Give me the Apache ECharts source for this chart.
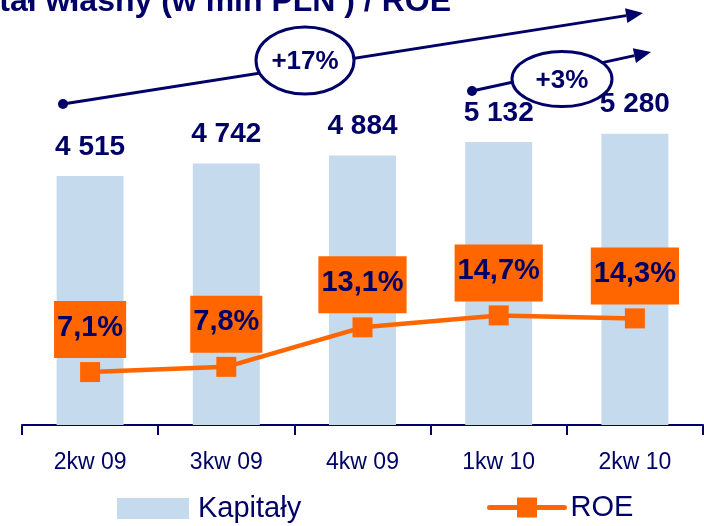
<!DOCTYPE html>
<html>
<head>
<meta charset="utf-8">
<title>Kapitał własny / ROE</title>
<script src="https://cdn.jsdelivr.net/npm/echarts@6/dist/echarts.min.js"></script>
<style>
  html, body { margin: 0; padding: 0; background: #ffffff; }
  #chart { width: 704px; height: 526px; }
</style>
</head>
<body>
<div id="chart"></div>
<script>
// Equity (PLN m) and ROE by quarter
const categories = ['2kw 09', '3kw 09', '4kw 09', '1kw 10', '2kw 10'];
const kapitaly = [4515, 4742, 4884, 5132, 5280];
const roe = [7.1, 7.8, 13.1, 14.7, 14.3];
const growthLong = '+17%';
const growthShort = '+3%';
const titleText = 'Kapitał własny (w mln PLN ) / ROE';

const NAVY = '#000066';
const ORANGE = '#FF6600';
const BAR = '#C6DAEE';
const FONT = '"Liberation Sans", Arial, sans-serif';

const fmtThousands = v => String(v).replace(/\B(?=(\d{3})+(?!\d))/g, ' ');
const fmtPct = v => v.toFixed(1).replace('.', ',') + '%';

// arrow head polygon from tip along a direction
function arrowHead(tip, from, len, half) {
  const dx = tip[0] - from[0], dy = tip[1] - from[1];
  const L = Math.hypot(dx, dy);
  const ux = dx / L, uy = dy / L;
  const bx = tip[0] - ux * len, by = tip[1] - uy * len;
  return {
    base: [bx, by],
    pts: [tip, [bx - uy * half, by + ux * half], [bx + uy * half, by - ux * half]]
  };
}

function growthArrow(start, tip, ell, label) {
  const head = arrowHead(tip, start, 17, 7.5);
  return [
    { type: 'line', shape: { x1: start[0], y1: start[1], x2: head.base[0], y2: head.base[1] },
      style: { stroke: NAVY, lineWidth: 3 }, z: 10 },
    { type: 'polygon', shape: { points: head.pts }, style: { fill: NAVY }, z: 10 },
    { type: 'circle', shape: { cx: start[0], cy: start[1], r: 5 }, style: { fill: NAVY }, z: 10 },
    { type: 'ellipse', shape: { cx: ell[0], cy: ell[1], rx: ell[2], ry: ell[3] },
      style: { fill: '#ffffff', stroke: NAVY, lineWidth: 3 }, z: 11 },
    { type: 'text', x: ell[0], y: ell[1] + 1.5, z: 12,
      style: { text: label, fill: NAVY, font: 'bold 26px ' + FONT, align: 'center', verticalAlign: 'middle' } }
  ];
}

const chart = echarts.init(document.getElementById('chart'), null, { renderer: 'canvas' });

chart.setOption({
  animation: false,
  backgroundColor: '#ffffff',
  grid: { left: 22, right: 1, top: 94, bottom: 101, containLabel: false },
  legend: [
    {
      data: ['Kapitały'], left: 117, top: 494, padding: 0,
      itemWidth: 72, itemHeight: 21, icon: 'rect',
      textStyle: { color: NAVY, fontSize: 29, fontFamily: FONT, padding: [0, 0, 0, 4] }
    },
    {
      data: ['ROE'], left: 487, top: 493, padding: 0,
      itemWidth: 75, itemHeight: 25,
      lineStyle: { width: 5, cap: 'round' },
      textStyle: { color: NAVY, fontSize: 29, fontFamily: FONT, padding: [0, 0, 0, 1] }
    }
  ],
  xAxis: {
    type: 'category',
    data: categories,
    boundaryGap: true,
    axisLine: { show: true, lineStyle: { color: NAVY, width: 2 } },
    axisTick: { show: true, alignWithLabel: false, length: 10, lineStyle: { color: NAVY, width: 2 } },
    axisLabel: { color: NAVY, fontSize: 23, fontFamily: FONT, margin: 26 },
    splitLine: { show: false }
  },
  yAxis: [
    { type: 'value', min: 0, max: 6000, show: false, splitLine: { show: false } },
    { type: 'value', min: 0, max: 44.4, show: false, splitLine: { show: false } }
  ],
  series: [
    {
      name: 'Kapitały',
      type: 'bar',
      data: kapitaly,
      barWidth: 67,
      itemStyle: { color: BAR },
      z: 2,
      label: {
        show: true, position: 'top', distance: 15,
        color: NAVY, fontSize: 28, fontWeight: 'bold', fontFamily: FONT,
        formatter: p => fmtThousands(p.value)
      }
    },
    {
      name: 'ROE',
      type: 'line',
      yAxisIndex: 1,
      data: roe,
      symbol: 'rect',
      symbolSize: 20,
      lineStyle: { color: ORANGE, width: 4.5, cap: 'round' },
      itemStyle: { color: ORANGE },
      z: 5,
      label: {
        show: true, position: 'top', distance: 4,
        backgroundColor: ORANGE,
        padding: [12, 3, 16, 3],
        color: NAVY, fontSize: 29, fontWeight: 'bold', fontFamily: FONT,
        formatter: p => fmtPct(p.value)
      }
    }
  ],
  graphic: [
    { type: 'text', x: -70, y: 2, z: 20,
      style: { text: titleText, fill: NAVY, font: 'bold 32px ' + FONT, align: 'left', verticalAlign: 'middle' } },
    ...growthArrow([63, 104], [643, 13], [305, 60.5, 49, 33.5], growthLong),
    ...growthArrow([472, 91], [651, 52], [562, 79, 50, 27.5], growthShort)
  ]
});
</script>
</body>
</html>
